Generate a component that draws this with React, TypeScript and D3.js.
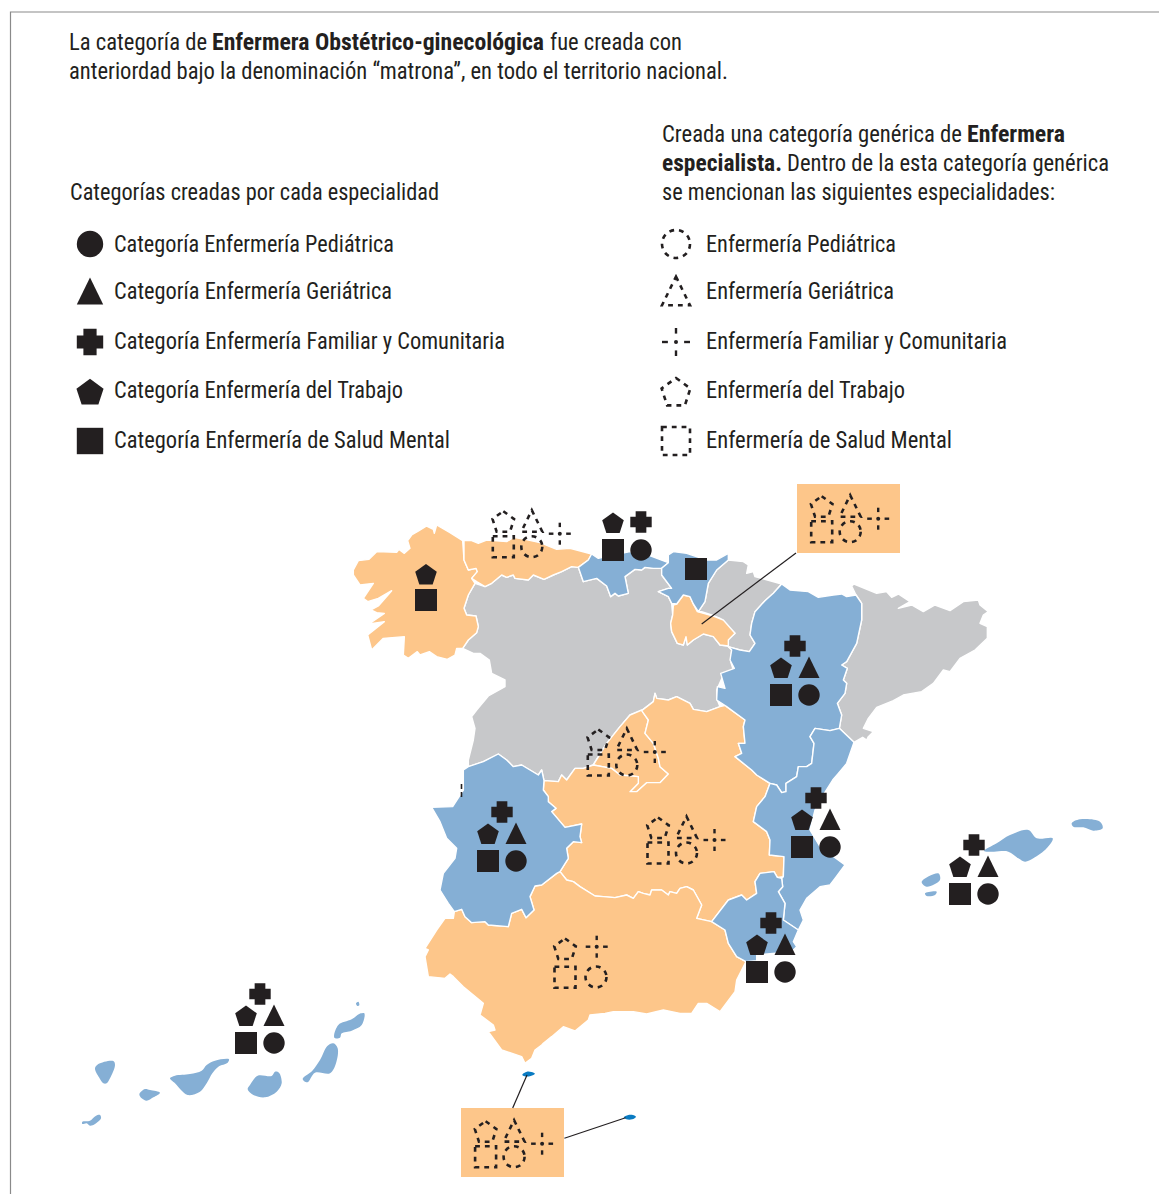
import React from "react";
import * as d3 from "d3";

const W = 1159, H = 1194;
const ORANGE = "#FDC68A", BLUE = "#85AFD5", GRAY = "#C7C8CA", INK = "#231F20", SEA = "#0A7BC2";
const FONT = "'Liberation Sans Narrow','Roboto Condensed','Liberation Sans',sans-serif";

type P = [number, number];
// The outlines are traced in crop units; each frame's scales bring them to the page.
const frame = (x0: number, y0: number, kx = 3, ky = 3) => {
  const sx = d3.scaleLinear().domain([0, 1]).range([x0, x0 + 1 / kx]);
  const sy = d3.scaleLinear().domain([0, 1]).range([y0, y0 + 1 / ky]);
  return (pts: number[][]): P[] => pts.map(([x, y]) => [sx(x), sy(y)]);
};
const f1 = frame(340, 480), f2 = frame(700, 480), f3 = frame(420, 750), f6 = frame(780, 780), f4 = frame(60, 980, 2.613, 3);
const f7 = frame(345, 520), f8 = frame(75, 1000);

const galicia = [...f7([[25,150],[40,122],[72,118],[95,95],[155,97],[162,88],[178,100],[195,85],[188,62],[200,45],[222,32],[245,18],[265,28],[268,40],[275,15],[315,38],[353,62]]),
  ...f1([[372,240],[385,270],[408,265],[412,275],[395,295],[405,310],[385,345],[372,385],[380,405],[408,408],[415,440],[410,458],[385,480],[368,505],[350,505],[345,525],[322,538],[290,530],[268,515],[240,525],[232,515],[205,535],[190,525]]),
  ...f7([[178,350],[115,355],[80,390],[68,345],[118,305],[72,312],[118,280],[95,278],[78,270],[100,258],[140,212],[100,235],[68,245],[55,235],[85,190],[45,195],[25,165]])];
const asturias = f1([[372,182],[395,182],[415,190],[440,180],[500,185],[520,172],[555,178],[600,188],[650,208],[690,205],[755,222],[745,240],[715,262],[695,260],[665,275],[640,285],[612,298],[580,285],[565,300],[525,295],[520,285],[500,292],[485,285],[455,310],[435,320],[410,305],[395,295],[412,275],[408,265],[385,270],[372,240]]);
const cantabria = f1([[755,222],[775,235],[820,225],[870,215],[925,225],[985,248],[965,265],[940,265],[915,262],[905,270],[885,268],[855,290],[865,340],[835,348],[825,340],[812,350],[800,318],[770,295],[730,305],[715,262],[745,240]]);
const paisVasco = f1([[985,248],[985,225],[1000,215],[1040,220],[1100,240],[1130,240],[1165,220],[1165,240],[1130,270],[1105,310],[1095,365],[1075,395],[1060,372],[1050,350],[1030,345],[1010,372],[995,370],[985,350],[955,335],[985,325],[995,325],[965,285],[965,265]]);
const navarra = [...f1([[1165,240],[1130,270],[1105,310],[1095,365],[1075,395]]), ...f2([[5,395],[35,405],[60,415],[85,440],[105,460],[80,480],[85,500],[95,503],[120,510],[148,515],[165,490],[150,465],[155,430],[165,395],[195,362],[220,340],[245,312],[165,290],[160,275],[140,280],[145,255],[130,245],[85,240]])];
const rioja = f1([[1000,375],[1010,372],[1030,345],[1050,350],[1060,372],[1072,395],[1120,408],[1150,420],[1185,460],[1165,480],[1165,498],[1140,495],[1120,470],[1090,462],[1060,480],[1042,495],[1038,470],[1030,495],[1012,490],[995,455],[992,430],[998,405]]);
const castillaLeon = [...f1([[405,310],[435,320],[455,310],[485,285],[500,292],[520,285],[525,295],[565,300],[580,285],[612,298],[640,285],[665,275],[695,260],[715,262],[730,305],[770,295],[800,318],[812,350],[825,340],[835,348],[865,340],[855,290],[885,268],[905,270],[915,262],[940,265],[965,265],[965,285],[995,325],[985,325],[955,335],[985,350],[995,370],[998,405],[992,430],[995,455],[1012,490],[1030,495],[1038,470],[1042,495],[1060,480],[1090,462],[1120,470],[1140,495],[1165,498],[1175,510],[1172,545],[1180,570],[1150,585],[1130,630],[1130,655],[1140,680],[1100,695],[1060,688],[1050,670],[1010,650],[985,660],[950,655],[945,640],[940,665],[905,692],[870,705],[840,740],[800,790],[759,855]]),
  ...f3([[490,55],[465,55],[440,90],[425,75],[415,95],[372,92],[365,60],[355,75],[305,45],[280,50],[260,30],[235,12],[190,35],[145,50]]),
  ...f1([[385,840],[400,780],[405,745],[395,710],[410,690],[445,648],[495,620],[495,600],[455,580],[448,540],[420,520],[400,520],[368,505],[385,480],[410,458],[415,440],[408,408],[380,405],[372,385],[385,345]])];
const madrid = [...f1([[905,690],[925,720],[915,760],[940,790],[955,835],[960,860]]), ...f3([[745,72],[720,98],[680,98],[650,125],[630,125],[655,100],[655,80],[600,75],[575,55],[520,45]]), ...f1([[800,790],[840,740],[870,705]])];
const castillaMancha = [...f3([[372,92],[415,95],[425,75],[440,90],[465,55],[490,55],[520,45],[575,55],[600,75],[655,80],[655,100],[630,125],[650,125],[680,98],[720,98],[745,72]]),
  ...f1([[960,860],[955,835],[940,790],[915,760],[925,720],[905,692],[940,665],[945,640],[950,655],[985,660],[1010,650],[1050,670],[1060,688],[1100,695],[1140,680],[1160,675]]),
  ...f2([[80,680],[135,720],[130,740],[135,790],[115,790],[125,820],[105,830]]),
  ...f3([[995,60],[1010,75],[1050,100],[1035,140],[1010,170],[1000,215],[1040,245],[1050,270],[1048,315],[1092,320],[1090,380],[1072,382],[1062,365],[1020,370],[1005,395],[1010,430],[980,450],[965,435],[925,450],[875,515],[830,505],[845,465],[820,420],[800,410],[780,415],[770,430],[750,425],[745,435],[725,420],[695,420],[690,435],[670,430],[655,425],[640,445],[620,435],[585,443],[550,440],[525,438],[480,410],[460,395],[440,390],[420,365],[445,325],[440,295],[460,275],[485,278],[480,260],[485,222],[435,232],[395,185],[408,175],[385,155],[385,140],[370,120]])];
const andalucia = f3([[420,365],[440,390],[460,395],[480,410],[525,438],[550,440],[585,443],[620,435],[640,445],[655,425],[670,430],[690,435],[695,420],[725,420],[745,435],[750,425],[770,430],[780,415],[800,410],[820,420],[845,465],[830,505],[875,515],[915,540],[925,580],[950,620],[978,635],[950,690],[945,725],[900,785],[860,760],[835,760],[815,790],[780,790],[730,780],[680,792],[640,785],[580,785],[555,790],[510,795],[505,810],[465,843],[430,830],[395,860],[370,880],[365,885],[345,900],[335,925],[315,940],[305,920],[245,900],[205,845],[225,840],[220,825],[180,795],[190,760],[130,710],[100,680],[90,672],[75,685],[25,680],[15,620],[25,600],[15,595],[50,540],[75,505],[100,505],[103,485],[125,478],[135,500],[155,518],[195,515],[205,525],[265,530],[275,490],[305,478],[318,503],[342,480],[330,440],[345,408],[365,405],[410,370]]);
const extremadura = f3([[145,50],[190,35],[235,12],[260,30],[280,50],[305,45],[355,75],[365,60],[372,92],[370,120],[385,140],[385,155],[408,175],[395,185],[435,232],[485,222],[480,260],[485,278],[460,275],[440,295],[445,325],[420,365],[410,370],[365,405],[345,408],[330,440],[342,480],[318,503],[305,478],[275,490],[265,530],[205,525],[195,515],[155,518],[135,500],[125,478],[103,485],[85,460],[60,420],[70,370],[105,325],[110,295],[80,265],[60,215],[35,172],[98,170],[130,120],[130,60]]);
const murcia = f3([[875,515],[925,450],[965,435],[980,450],[1010,430],[1005,395],[1020,370],[1062,365],[1072,382],[1085,385],[1088,410],[1075,425],[1095,460],[1090,510],[1135,540],[1120,575],[1130,590],[1115,605],[1010,615],[1010,632],[978,635],[950,620],[925,580],[915,540]]);
const valencia = [...f2([[345,745],[390,752],[418,745],[462,787],[440,850],[415,880],[398,900]]),
  ...f6([[120,60],[105,90],[90,150],[120,200],[195,255],[165,295],[150,315],[120,320],[80,355],[60,390],[70,420]]),
  ...f3([[1135,540],[1090,510],[1095,460],[1075,425],[1088,410],[1085,385],[1090,380],[1092,320],[1048,315],[1050,270],[1040,245],[1000,215],[1010,170],[1035,140],[1050,100],[1070,105],[1085,128],[1098,125],[1098,100],[1130,80],[1135,50]]),
  ...f2([[320,860],[335,850],[342,790],[330,770]])];
const aragon = [...f2([[245,312],[270,330],[325,335],[355,352],[400,345],[425,342],[440,350],[468,345],[485,370],[485,420],[470,490],[440,545],[425,555],[442,565],[430,600],[440,610],[435,640],[412,670],[425,705],[418,745],[390,752],[345,745],[330,770],[342,790],[335,850],[320,860],[295,860]]),
  ...f3([[1130,80],[1098,100],[1098,125],[1085,128],[1070,105],[1050,100],[1010,75],[995,60],[945,20]]),
  ...f2([[125,820],[115,790],[135,790],[130,740],[135,720],[80,680],[50,660],[52,620],[75,625],[62,580],[103,565],[90,540],[95,510],[85,500],[95,503],[120,510],[148,515],[165,490],[150,465],[155,430],[165,395],[195,362],[220,340]])];
const cataluna = f2([[455,318],[462,312],[530,340],[560,335],[575,352],[595,342],[630,365],[595,385],[635,375],[670,395],[705,375],[750,392],[790,365],[835,360],[840,375],[865,395],[850,405],[840,430],[862,440],[862,475],[825,510],[780,535],[750,575],[730,570],[700,610],[665,635],[610,645],[580,662],[530,682],[505,715],[490,745],[520,755],[505,770],[500,780],[488,772],[462,787],[418,745],[425,705],[412,670],[435,640],[440,610],[430,600],[442,565],[425,555],[440,545],[470,490],[485,420],[485,370],[468,345]]);
const mallorca = f6([[612,213],[650,190],[690,165],[745,150],[770,175],[818,175],[800,205],[760,235],[735,245],[715,235],[685,215],[640,215]]);
const menorca = f6([[875,130],[900,118],[960,125],[968,145],[940,152],[910,142],[880,140]]);
const ibiza = f6([[425,305],[475,280],[480,300],[440,320]]);
const formentera = f6([[435,340],[470,335],[465,345],[440,348]]);
const laPalma = f8([[60,205],[70,192],[115,183],[120,195],[105,235],[95,250],[85,250],[72,232]]);
const elHierro = f8([[22,365],[45,362],[62,348],[75,345],[78,355],[60,372],[45,377],[35,370],[22,372]]);
const gomera = f8([[193,283],[210,267],[225,270],[255,278],[235,292],[215,302],[200,295]]);
const tenerife = f8([[285,235],[300,227],[345,222],[380,212],[395,195],[420,182],[462,178],[458,188],[430,200],[412,220],[395,250],[375,275],[338,285],[318,270],[300,250]]);
const granCanaria = f8([[548,227],[590,228],[600,215],[612,218],[620,250],[605,275],[570,292],[535,285],[518,268],[525,255]]);
const fuerteventura = f8([[683,237],[712,212],[735,180],[757,138],[775,130],[788,145],[783,190],[765,220],[720,218],[697,247]]);
const lanzarote = f8([[778,113],[790,75],[830,58],[857,40],[868,40],[860,75],[830,92],[800,100],[795,113]]);
const graciosa = f8([[843,10],[850,5],[853,15],[847,18]]);
const ceuta = f4([[1208,284],[1220,275],[1232,276],[1241,281],[1230,288],[1214,289]]);
const melilla = f4([[1473,412],[1485,405],[1497,405],[1505,410],[1495,418],[1480,418]]);

const mainland = [
  [castillaLeon, GRAY], [navarra, GRAY], [cataluna, GRAY],
  [galicia, ORANGE], [asturias, ORANGE], [rioja, ORANGE], [madrid, ORANGE], [castillaMancha, ORANGE], [andalucia, ORANGE],
  [cantabria, BLUE], [paisVasco, BLUE], [aragon, BLUE], [extremadura, BLUE], [valencia, BLUE], [murcia, BLUE],
] as [P[], string][];
const islands = [mallorca, menorca, ibiza, formentera, laPalma, elHierro, gomera, tenerife, granCanaria, fuerteventura, lanzarote, graciosa];
const cities = [ceuta, melilla];

// Cluster anchors
const solidFull: P[] = [[795, 646], [502, 812], [816, 798], [771, 923], [974, 845], [260, 994]];
const dashedFull: P[] = [[503.3, 546.7], [821.7, 531.7], [598.3, 765], [658, 853], [485.6, 1156.7]];
const insetBoxes: P[] = [[797, 484], [461, 1108]];
const leaders: [P, P][] = [[[796, 553], [701.7, 624]], [[512.7, 1108], [527, 1075]], [[564.4, 1138.3], [625.6, 1117.7]]];

const legendSolid = ["Categoría Enfermería Pediátrica", "Categoría Enfermería Geriátrica", "Categoría Enfermería Familiar y Comunitaria", "Categoría Enfermería del Trabajo", "Categoría Enfermería de Salud Mental"];
const legendSolidEnd = [394, 392, 505, 403, 450];
const legendDashed = ["Enfermería Pediátrica", "Enfermería Geriátrica", "Enfermería Familiar y Comunitaria", "Enfermería del Trabajo", "Enfermería de Salud Mental"];
const legendDashedEnd = [896, 894, 1007, 905, 952];
const legendKinds = ["circle", "triangle", "cross", "pentagon", "square"];
const legendBase = [252, 299, 349, 398, 448];
const legendCy = [244, 292, 342, 392, 441];

// text, bold, x0, x1, baseline
const copy: [string, boolean, number, number, number][] = [
  ["La categoría de", false, 69, 207, 50],
  ["Enfermera Obstétrico-ginecológica", true, 212, 544, 50],
  ["fue creada con", false, 550, 682, 50],
  ["anteriordad bajo la denominación “matrona”, en todo el territorio nacional.", false, 69, 728, 79],
  ["Creada una categoría genérica de", false, 662, 962, 142],
  ["Enfermera", true, 967, 1065, 142],
  ["especialista.", true, 662, 782, 171],
  ["Dentro de la esta categoría genérica", false, 787, 1109, 171],
  ["se mencionan las siguientes especialidades:", false, 662, 1055, 200],
  ["Categorías creadas por cada especialidad", false, 70, 439, 200],
];

const poly = d3.line<P>().curve(d3.curveLinearClosed);
const blob = d3.line<P>().curve(d3.curveCatmullRomClosed.alpha(0.5));
const open = d3.line<P>();

function shapePoints(kind: string, r: number): P[] {
  if (kind === "square") return [[-r, -r], [r, -r], [r, r], [-r, r]];
  if (kind === "triangle") return [[0, -r * 1.1], [r, r * 0.95], [-r, r * 0.95]];
  if (kind === "pentagon") return d3.range(5).map((i) => {
    const a = -Math.PI / 2 + (i * 2 * Math.PI) / 5;
    const q = r * 1.08;
    return [q * Math.cos(a), q * Math.sin(a) + r * 0.08] as P;
  });
  const a = r / 2; // cross
  return [[-a, -r], [a, -r], [a, -a], [r, -a], [r, a], [a, a], [a, r], [-a, r], [-a, a], [-r, a], [-r, -a], [-a, -a]];
}

function Solid({ kind, x, y, r }: { kind: string; x: number; y: number; r: number }) {
  if (kind === "circle") return <circle cx={x} cy={y} r={r} fill={INK} />;
  return <path transform={`translate(${x},${y})`} d={poly(shapePoints(kind, r))!} fill={INK} />;
}

function Dashed({ kind, x, y, r }: { kind: string; x: number; y: number; r: number }) {
  const st = { fill: "none", stroke: INK, strokeWidth: 2.6, strokeDasharray: "4.8 5" };
  if (kind === "circle") return <circle cx={x} cy={y} r={r} {...st} />;
  if (kind === "cross") {
    const arms: [P, P][] = [[[-r, 0], [-r * 0.58, 0]], [[r * 0.58, 0], [r, 0]], [[0, -r], [0, -r * 0.6]], [[0, r * 0.6], [0, r]]];
    return (
      <g transform={`translate(${x},${y})`}>
        {arms.map((s, i) => <path key={i} d={open(s)!} stroke={INK} strokeWidth={2.4} fill="none" />)}
        <circle r={2} fill={INK} />
      </g>
    );
  }
  return <path transform={`translate(${x},${y})`} d={poly(shapePoints(kind, r))!} {...st} />;
}

const Label = ({ t, bold, x0, x1, y }: { t: string; bold?: boolean; x0: number; x1: number; y: number }) => (
  <text x={x0} y={y} textLength={x1 - x0} lengthAdjust="spacingAndGlyphs" fontFamily={FONT} fontSize={23} fontWeight={bold ? 700 : 400} fill={INK}>{t}</text>
);

export default function App() {
  return (
    <svg width={W} height={H} viewBox={`0 0 ${W} ${H}`} style={{ position: "absolute", left: 0, top: 0, background: "#fff" }}>
      <path d={open([[W, 12], [10.5, 12], [10.5, H]])!} fill="none" stroke="#8a8a8a" strokeWidth={1.2} />
      {copy.map(([t, b, x0, x1, y], i) => <Label key={i} t={t} bold={b} x0={x0} x1={x1} y={y} />)}

      {legendKinds.map((k, i) => (
        <g key={k}>
          <Solid kind={k} x={90} y={legendCy[i]} r={13.2} />
          <Label t={legendSolid[i]} x0={114} x1={legendSolidEnd[i]} y={legendBase[i]} />
          <Dashed kind={k} x={676} y={legendCy[i]} r={14} />
          <Label t={legendDashed[i]} x0={706} x1={legendDashedEnd[i]} y={legendBase[i]} />
        </g>
      ))}

      {mainland.map(([pts, c], i) => <path key={i} d={poly(pts)!} fill={c} stroke="#fff" strokeWidth={1.4} strokeLinejoin="round" />)}
      {islands.map((pts, i) => <path key={i} d={blob(pts)!} fill={BLUE} />)}
      {cities.map((pts, i) => <path key={i} d={blob(pts)!} fill={SEA} />)}

      {insetBoxes.map(([x, y], i) => <rect key={i} x={x} y={y} width={103} height={69} fill={ORANGE} />)}
      {leaders.map((s, i) => <path key={i} d={open(s)!} stroke={INK} strokeWidth={1.2} fill="none" />)}

      <path d={open([[461.5, 784], [461.5, 798]])!} stroke={INK} strokeWidth={1.6} strokeDasharray="5 3" />

      {/* Galicia */}
      <Solid kind="pentagon" x={426} y={574.5} r={10.5} />
      <Solid kind="square" x={426} y={600} r={11} />
      {/* Cantabria + País Vasco */}
      <Solid kind="pentagon" x={613} y={523} r={10.5} />
      <Solid kind="cross" x={641} y={522} r={10.7} />
      <Solid kind="square" x={613} y={550} r={11} />
      <Solid kind="circle" x={641} y={550} r={10.7} />
      <Solid kind="square" x={696} y={569} r={11} />

      {solidFull.map(([x, y], i) => (
        <g key={i}>
          <Solid kind="cross" x={x} y={y} r={10.7} />
          <Solid kind="pentagon" x={x - 14} y={y + 22} r={10.5} />
          <Solid kind="triangle" x={x + 14} y={y + 22} r={10.5} />
          <Solid kind="square" x={x - 14} y={y + 49} r={11} />
          <Solid kind="circle" x={x + 14} y={y + 49} r={10.7} />
        </g>
      ))}

      {dashedFull.map(([x, y], i) => (
        <g key={i}>
          <Dashed kind="square" x={x} y={y} r={10.5} />
          <Dashed kind="pentagon" x={x} y={y - 25} r={10.5} />
          <Dashed kind="triangle" x={x + 28.5} y={y - 25} r={10.5} />
          <Dashed kind="cross" x={x + 56.5} y={y - 13} r={11} />
          <Dashed kind="circle" x={x + 28.5} y={y} r={10.5} />
        </g>
      ))}
      <Dashed kind="square" x={565} y={977.3} r={10.5} />
      <Dashed kind="pentagon" x={565} y={949} r={10.5} />
      <Dashed kind="cross" x={596.7} y={946.7} r={11} />
      <Dashed kind="circle" x={596} y={977} r={10.5} />
    </svg>
  );
}
